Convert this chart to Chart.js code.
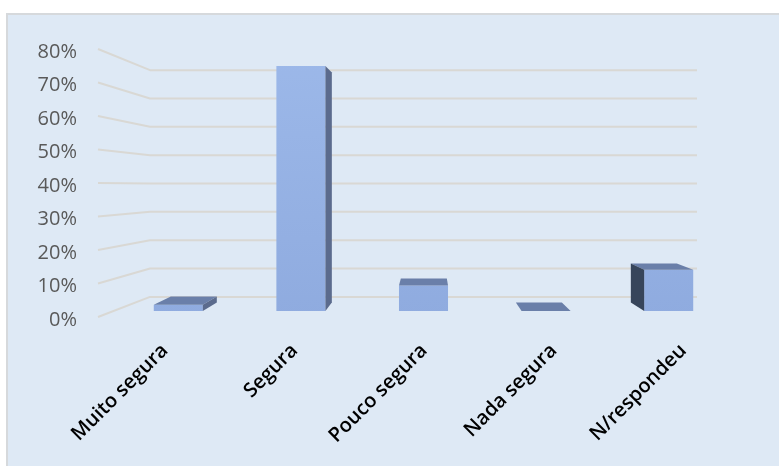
<!DOCTYPE html>
<html><head><meta charset="utf-8">
<script src="https://cdn.jsdelivr.net/npm/chart.js@4/dist/chart.umd.min.js"></script>
<style>html,body{margin:0;padding:0;background:#fff;} canvas{display:block;}</style>
</head><body>
<canvas id="c" width="779" height="466"></canvas>
<script>
// ---- data ----
const categories = ['Muito segura', 'Segura', 'Pouco segura', 'Nada segura', 'N/respondeu'];
const values = [2, 77, 8, 0, 13];
const yTicks = [0, 10, 20, 30, 40, 50, 60, 70, 80];
const tickSuffix = '%';

// ---- style ----
const BG = '#dee9f5';
const FRAME = '#d6d9dc';
const GRID = '#d9d8d4';
const FONT = "'Open Sans', 'Noto Sans', sans-serif";
const VP = { x: 429, y: 171 };   // vanishing point of the 3D look
const DEPTH = 0.062;             // bar depth factor

function backPt(x, y, k) { return [x + (VP.x - x) * k, y + (VP.y - y) * k]; }
function poly(ctx, pts, fill) {
  ctx.beginPath();
  ctx.moveTo(pts[0][0], pts[0][1]);
  for (let i = 1; i < pts.length; i++) ctx.lineTo(pts[i][0], pts[i][1]);
  ctx.closePath();
  ctx.fillStyle = fill;
  ctx.fill();
}

const framePlugin = {
  id: 'frame',
  beforeDraw(chart) {
    const ctx = chart.ctx;
    ctx.save();
    ctx.fillStyle = '#ffffff';
    ctx.fillRect(0, 0, chart.width, chart.height);
    ctx.fillStyle = BG;
    ctx.fillRect(7, 14, chart.width - 7, chart.height - 14);
    ctx.strokeStyle = FRAME;
    ctx.lineWidth = 2;
    ctx.strokeRect(7, 14, chart.width + 10, chart.height + 10);
    ctx.restore();
  }
};

const wallPlugin = {
  id: 'wall',
  beforeDatasetsDraw(chart) {
    const ctx = chart.ctx;
    const yl = chart.scales.yLab, yb = chart.scales.yBack;
    const xFront = 98, xBack = 150, xRight = 697;
    ctx.save();
    ctx.strokeStyle = GRID;
    ctx.lineWidth = 2;
    ctx.lineJoin = 'round';
    yTicks.forEach(v => {
      const y1 = yl.getPixelForValue(v) - 3;
      const y2 = yb.getPixelForValue(v);
      ctx.beginPath();
      ctx.moveTo(xFront, y1);
      ctx.lineTo(xBack, y2);
      ctx.lineTo(xRight, y2);
      ctx.stroke();
    });
    ctx.restore();
  }
};

const boxPlugin = {
  id: 'box3d',
  afterDatasetsDraw(chart) {
    const ctx = chart.ctx;
    const meta = chart.getDatasetMeta(0);
    ctx.save();
    meta.data.forEach(el => {
      const p = el.getProps(['x', 'y', 'base', 'width'], true);
      const L = p.x - p.width / 2, R = p.x + p.width / 2;
      const T = Math.min(p.y, p.base), B = Math.max(p.y, p.base);
      if (T > VP.y) {
        poly(ctx, [[L, T], [R, T], backPt(R, T, DEPTH), backPt(L, T, DEPTH)], '#6a7fa9');
      }
      if (R < VP.x) {
        poly(ctx, [[R, T], [R, B], backPt(R, B, DEPTH), backPt(R, T, DEPTH)], '#5b6b8d');
      }
      if (L > VP.x) {
        poly(ctx, [[L, T], [L, B], backPt(L, B, DEPTH), backPt(L, T, DEPTH)], '#37455b');
      }
    });
    ctx.restore();
  }
};

new Chart(document.getElementById('c'), {
  type: 'bar',
  data: {
    labels: categories,
    datasets: [{
      data: values,
      xAxisID: 'x',
      yAxisID: 'yBar',
      barPercentage: 0.4,
      categoryPercentage: 1,
      borderWidth: 0,
      backgroundColor(ctx) {
        const area = ctx.chart.chartArea;
        if (!area) return '#95b2e4';
        const g = ctx.chart.ctx.createLinearGradient(0, area.top, 0, area.bottom);
        g.addColorStop(0, '#9cb8e9');
        g.addColorStop(1, '#8fabdf');
        return g;
      }
    }]
  },
  options: {
    responsive: false,
    animation: false,
    events: [],
    layout: { padding: { left: 0, right: 49, top: 50, bottom: 0 } },
    plugins: { legend: { display: false }, tooltip: { enabled: false }, title: { display: false } },
    scales: {
      x: {
        type: 'category',
        display: false,
        offset: true,
        grid: { display: false }
      },
      xLab: {
        type: 'linear',
        position: 'bottom',
        bounds: 'data',
        offset: false,
        min: -0.3703,
        max: 4.359,
        afterBuildTicks(scale) { scale.ticks = categories.map((_, i) => ({ value: i })); },
        afterFit(scale) { scale.height = 146; },
        grid: { display: false, drawTicks: false, offset: false },
        border: { display: false },
        ticks: {
          autoSkip: false,
          minRotation: 45,
          maxRotation: 45,
          padding: 19,
          color: '#000000',
          font: { family: FONT, size: 20, weight: '600' },
          callback(v) { return categories[v] !== undefined ? categories[v] : ''; }
        }
      },
      yLab: {
        type: 'linear',
        position: 'left',
        min: 0,
        max: 80,
        afterBuildTicks(scale) { scale.ticks = yTicks.map(v => ({ value: v })); },
        afterFit(scale) { scale.width = 117; },
        grid: { display: false, drawTicks: false },
        border: { display: false },
        ticks: {
          padding: 40,
          color: '#595959',
          font: { family: FONT, size: 20 },
          callback(v) { return v + tickSuffix; }
        }
      },
      yBack: { type: 'linear', display: false, min: -8.16, max: 86.41 },
      yBar: { type: 'linear', display: false, min: -2.805, max: 81.36 }
    }
  },
  plugins: [framePlugin, wallPlugin, boxPlugin]
});
</script>
</body></html>
